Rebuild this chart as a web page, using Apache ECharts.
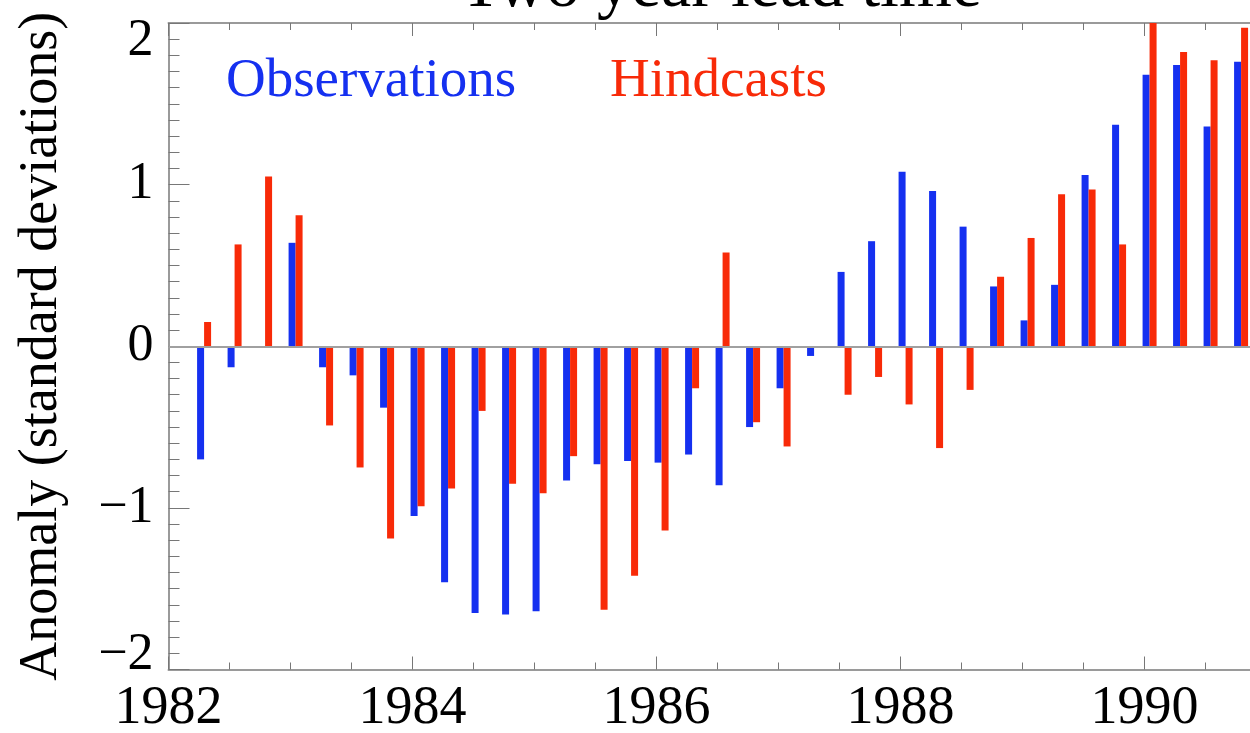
<!DOCTYPE html>
<html>
<head>
<meta charset="utf-8">
<title>Two year lead time</title>
<script src="https://cdn.jsdelivr.net/npm/echarts@6.0.0/dist/echarts.min.js"></script>
<style>
  html, body { margin: 0; padding: 0; background: #fff; }
  #chart { width: 1250px; height: 733px; }
</style>
</head>
<body>
<div id="chart"></div>
<script>
// Quarterly periods (year-month of the quarter's first month)
const periods = [
  '1982-04', '1982-07', '1982-10', '1983-01', '1983-04', '1983-07', '1983-10',
  '1984-01', '1984-04', '1984-07', '1984-10', '1985-01', '1985-04', '1985-07',
  '1985-10', '1986-01', '1986-04', '1986-07', '1986-10', '1987-01', '1987-04',
  '1987-07', '1987-10', '1988-01', '1988-04', '1988-07', '1988-10', '1989-01',
  '1989-04', '1989-07', '1989-10', '1990-01', '1990-04', '1990-07', '1990-10'
];

// Anomalies in standard deviations
const observations = [
  -0.70, -0.13, -0.01, 0.64, -0.13, -0.18, -0.38,
  -1.05, -1.46, -1.65, -1.66, -1.64, -0.83, -0.73,
  -0.71, -0.72, -0.67, -0.86, -0.50, -0.26, -0.06,
   0.46,  0.65,  1.08,  0.96,  0.74,  0.37,  0.16,
   0.38,  1.06,  1.37,  1.68,  1.74,  1.36,  1.76
];
const hindcasts = [
   0.15,  0.63,  1.05,  0.81, -0.49, -0.75, -1.19,
  -0.99, -0.88, -0.40, -0.85, -0.91, -0.68, -1.63,
  -1.42, -1.14, -0.26,  0.58, -0.47, -0.62, -0.01,
  -0.30, -0.19, -0.36, -0.63, -0.27,  0.43,  0.67,
   0.94,  0.97,  0.63,  2.05,  1.82,  1.77,  1.97
];

const yearLabels = [1982, 1984, 1986, 1988, 1990];

const BLUE = '#1530F0';
const RED = '#F82A08';
const SERIF = '"Liberation Serif", "Times New Roman", serif';

// decimal year at the middle of the month
function toYear(p) {
  const y = Number(p.slice(0, 4));
  const m = Number(p.slice(5, 7));
  return y + (m - 0.5) / 12;
}

const obsData = periods.map((p, i) => [toYear(p), observations[i]]);
const hinData = periods.map((p, i) => [toYear(p), hindcasts[i]]);

const frameLine = { show: true, lineStyle: { color: '#9a9a9a', width: 2 } };
const tickStyle = { color: '#777', width: 1 };

const xCommon = {
  type: 'value',
  min: 1982,
  max: 1992,
  interval: 2,
  axisLine: Object.assign({ onZero: false }, frameLine),
  axisTick: { show: true, inside: true, length: 13, lineStyle: tickStyle },
  minorTick: { show: true, splitNumber: 4, length: 7, lineStyle: tickStyle },
  splitLine: { show: false },
  minorSplitLine: { show: false }
};

// y tick labels: the end labels are nudged inward toward the plot
const yLabelFont = { fontFamily: SERIF, fontSize: 52, color: '#000' };
function yLabel(v) {
  const s = String(v).replace('-', '\u2212');
  if (v === 2) return '{hi|' + s + '}';
  if (v === -2) return '{lo|' + s + '}';
  return s;
}

const chart = echarts.init(document.getElementById('chart'), null, { renderer: 'canvas' });

chart.setOption({
  backgroundColor: '#ffffff',
  animation: false,
  title: {
    text: 'Two year lead time',
    left: 721,
    top: -46,
    padding: 0,
    textAlign: 'center',
    textStyle: { fontFamily: SERIF, fontSize: 68, fontWeight: 'normal', color: '#000' }
  },
  grid: {
    left: 168.5,
    right: -138.5,
    top: 23,
    bottom: 63.5,
    containLabel: false,
    outerBoundsMode: 'none'
  },
  xAxis: [
    Object.assign({}, xCommon, {
      position: 'bottom',
      axisLabel: {
        show: true,
        margin: 12,
        fontFamily: SERIF,
        fontSize: 54,
        color: '#000',
        formatter: v => (yearLabels.indexOf(v) >= 0 ? String(v) : '')
      }
    }),
    Object.assign({}, xCommon, {
      position: 'top',
      axisLabel: { show: false }
    })
  ],
  yAxis: {
    type: 'value',
    min: -2,
    max: 2,
    interval: 1,
    axisLine: frameLine,
    axisTick: { show: true, inside: true, length: 21, lineStyle: tickStyle },
    minorTick: { show: true, splitNumber: 10, length: 11, lineStyle: tickStyle },
    splitLine: { show: false },
    axisLabel: Object.assign({
      margin: 15,
      formatter: yLabel,
      rich: {
        hi: Object.assign({ padding: [36, 0, 0, 0] }, yLabelFont),
        lo: Object.assign({ padding: [0, 0, 28, 0] }, yLabelFont)
      }
    }, yLabelFont),
    name: 'Anomaly (standard deviations)',
    nameLocation: 'middle',
    nameGap: 100,
    nameTextStyle: { fontFamily: SERIF, fontSize: 54, color: '#000' }
  },
  graphic: [
    {
      type: 'text',
      x: 226,
      y: 82,
      style: { text: 'Observations', font: '55px ' + SERIF, fill: BLUE, verticalAlign: 'middle' }
    },
    {
      type: 'text',
      x: 610,
      y: 82,
      style: { text: 'Hindcasts', font: '55px ' + SERIF, fill: RED, verticalAlign: 'middle' }
    }
  ],
  series: [
    {
      name: 'Observations',
      type: 'bar',
      xAxisIndex: 0,
      data: obsData,
      barWidth: 7,
      barGap: '0%',
      itemStyle: { color: BLUE },
      markLine: {
        silent: true,
        symbol: 'none',
        label: { show: false },
        lineStyle: { color: '#a0a0a0', width: 2, type: 'solid' },
        data: [{ yAxis: 0 }]
      }
    },
    {
      name: 'Hindcasts',
      type: 'bar',
      xAxisIndex: 0,
      data: hinData,
      barWidth: 7,
      barGap: '0%',
      itemStyle: { color: RED }
    }
  ]
});
</script>
</body>
</html>
